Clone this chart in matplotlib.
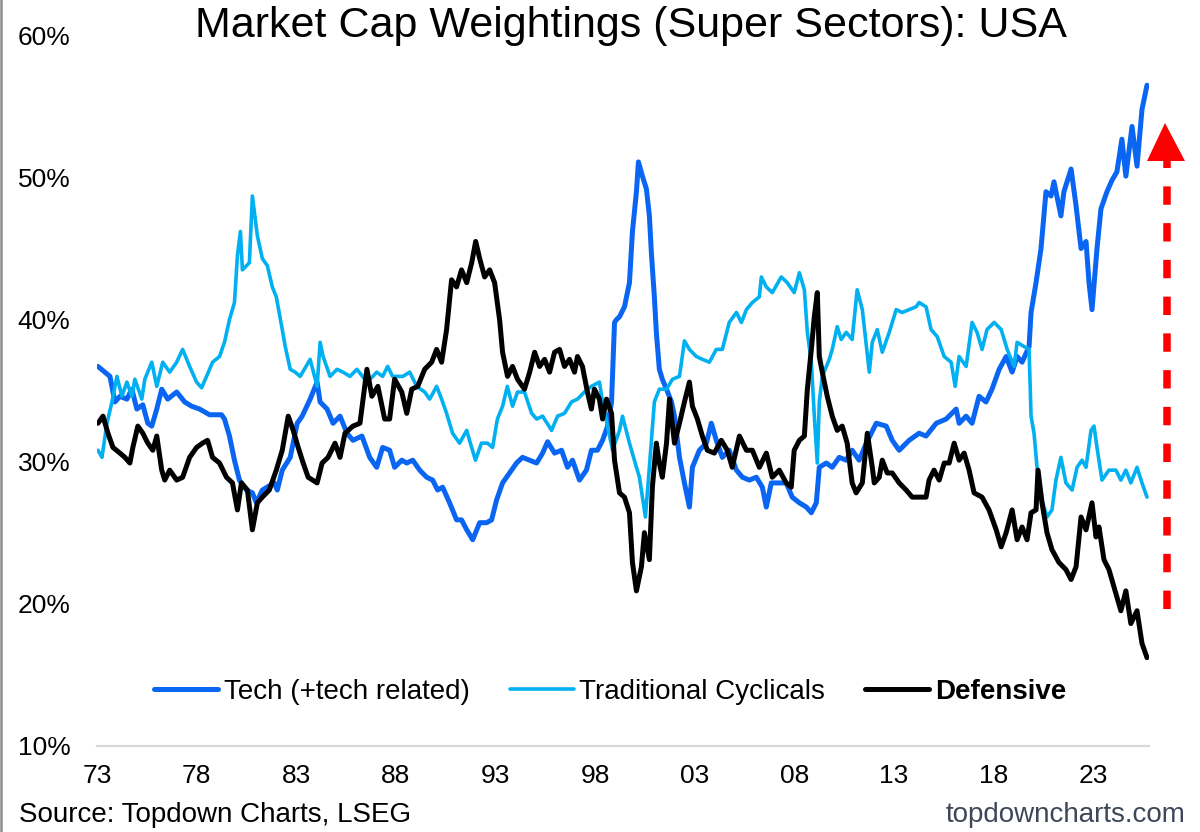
import matplotlib
matplotlib.use("Agg")
import matplotlib.pyplot as plt
from matplotlib.lines import Line2D
from matplotlib.patches import Polygon

# ---------------- data ----------------
tech_years = [1973.05, 1973.65, 1973.9, 1974.15, 1974.5, 1974.75, 1975.0, 1975.3, 1975.55, 1975.75,
              1976.0, 1976.25, 1976.55, 1977.0, 1977.4, 1977.75, 1978.15, 1978.65, 1979.25, 1979.4,
              1979.65, 1979.9, 1980.15, 1980.5, 1980.8, 1981.0, 1981.3, 1981.9, 1982.05, 1982.3,
              1982.7, 1983.05, 1983.3, 1983.7, 1984.05, 1984.2, 1984.55, 1984.85, 1985.2, 1985.55,
              1985.85, 1986.3, 1986.69, 1987.04, 1987.34, 1987.69, 1987.94, 1988.3, 1988.55, 1988.85,
              1989.2, 1989.55, 1989.85, 1990.1, 1990.35, 1990.7, 1991.05, 1991.3, 1991.56, 1991.86,
              1992.21, 1992.56, 1992.81, 1993.06, 1993.36, 1993.71, 1994.06, 1994.36, 1994.72, 1995.07,
              1995.37, 1995.62, 1995.97, 1996.32, 1996.62, 1996.87, 1997.22, 1997.57, 1997.82, 1998.12,
              1998.38, 1998.63, 1998.83, 1998.98, 1999.08, 1999.23, 1999.48, 1999.73, 1999.88, 2000.08,
              2000.18, 2000.38, 2000.58, 2000.73, 2000.83, 2000.98, 2001.08, 2001.23, 2001.38, 2001.59,
              2001.84, 2001.99, 2002.24, 2002.49, 2002.74, 2002.89, 2003.24, 2003.59, 2003.84, 2004.09,
              2004.39, 2004.74, 2005.1, 2005.4, 2005.75, 2006.1, 2006.4, 2006.6, 2006.85, 2007.15,
              2007.6, 2007.9, 2008.26, 2008.61, 2008.86, 2009.11, 2009.26, 2009.61, 2009.91, 2010.26,
              2010.61, 2010.91, 2011.26, 2011.62, 2012.12, 2012.62, 2012.92, 2013.27, 2013.77, 2014.27,
              2014.62, 2015.13, 2015.63, 2016.13, 2016.28, 2016.63, 2016.93, 2017.28, 2017.63, 2017.93,
              2018.29, 2018.64, 2018.94, 2019.19, 2019.44, 2019.79, 2019.89, 2020.14, 2020.39, 2020.64,
              2020.89, 2021.04, 2021.39, 2021.54, 2021.9, 2022.15, 2022.4, 2022.65, 2022.8, 2022.95,
              2023.2, 2023.4, 2023.7, 2023.95, 2024.2, 2024.45, 2024.65, 2024.96, 2025.21, 2025.46,
              2025.71]
tech_vals = [36.7, 36.0, 34.2, 34.6, 34.4, 35.1, 33.7, 34.0, 32.7, 32.5,
             33.7, 35.1, 34.4, 34.9, 34.2, 33.9, 33.7, 33.3, 33.3, 33.0,
             31.8, 30.1, 28.7, 28.0, 27.8, 27.1, 28.0, 28.5, 28.0, 29.4,
             30.3, 32.7, 33.2, 34.4, 35.6, 34.2, 33.7, 32.7, 33.2, 32.0,
             31.5, 31.8, 30.3, 29.6, 31.0, 30.8, 29.6, 30.1, 29.9, 30.1,
             29.4, 28.9, 28.7, 28.0, 28.2, 27.1, 25.9, 25.9, 25.2, 24.5,
             25.7, 25.7, 25.9, 27.3, 28.5, 29.2, 29.9, 30.3, 30.1, 29.9,
             30.6, 31.4, 30.6, 30.8, 29.6, 30.1, 28.7, 29.4, 30.8, 30.8,
             31.5, 32.5, 34.2, 39.8, 40.0, 40.2, 40.9, 42.6, 46.2, 49.0,
             51.1, 50.1, 49.2, 47.3, 44.7, 41.6, 39.1, 36.5, 35.8, 35.1,
             34.2, 33.2, 30.3, 28.5, 26.8, 29.6, 30.8, 31.3, 32.7, 31.5,
             30.3, 30.8, 29.4, 28.9, 28.7, 28.9, 28.2, 26.8, 28.5, 28.5,
             28.5, 27.5, 27.1, 26.8, 26.4, 27.1, 29.6, 29.9, 29.6, 30.3,
             30.1, 30.8, 30.1, 31.3, 32.7, 32.5, 31.5, 30.8, 31.5, 32.0,
             31.8, 32.7, 33.0, 33.7, 32.7, 33.2, 32.7, 34.6, 34.2, 35.1,
             36.5, 37.4, 36.3, 37.4, 37.0, 38.1, 40.5, 42.6, 45.0, 49.0,
             48.7, 49.7, 47.3, 49.0, 50.6, 48.0, 45.0, 45.5, 42.6, 40.7,
             45.0, 47.8, 49.0, 49.8, 50.4, 52.7, 50.1, 53.6, 50.8, 54.8,
             56.5]

cyc_years = [1973.05, 1973.25, 1973.5, 1973.75, 1974.0, 1974.25, 1974.5, 1974.75, 1974.9, 1975.25,
             1975.4, 1975.75, 1976.0, 1976.3, 1976.65, 1977.0, 1977.3, 1977.65, 1978.0, 1978.25,
             1978.5, 1978.8, 1979.15, 1979.4, 1979.65, 1979.9, 1980.05, 1980.2, 1980.3, 1980.65,
             1980.8, 1981.05, 1981.3, 1981.55, 1981.8, 1982.0, 1982.3, 1982.45, 1982.7, 1982.95,
             1983.2, 1983.7, 1984.05, 1984.2, 1984.35, 1984.7, 1985.05, 1985.35, 1985.7, 1986.05,
             1986.55, 1986.85, 1987.04, 1987.34, 1987.59, 1987.84, 1988.35, 1988.7, 1989.05, 1989.45,
             1989.7, 1990.05, 1990.3, 1990.55, 1990.85, 1991.2, 1991.56, 1991.7, 1992.0, 1992.3,
             1992.6, 1992.86, 1993.1, 1993.36, 1993.6, 1993.86, 1994.11, 1994.46, 1994.82, 1995.07,
             1995.37, 1995.82, 1996.12, 1996.47, 1996.82, 1997.12, 1997.47, 1997.82, 1998.22, 1998.38,
             1998.63, 1998.88, 1999.23, 1999.38, 1999.73, 2000.08, 2000.23, 2000.38, 2000.53, 2000.73,
             2000.98, 2001.23, 2001.59, 2001.89, 2002.24, 2002.49, 2002.74, 2003.09, 2003.39, 2003.74,
             2004.09, 2004.39, 2004.74, 2005.1, 2005.35, 2005.6, 2005.9, 2006.25, 2006.35, 2006.6,
             2006.9, 2007.35, 2007.65, 2008.0, 2008.26, 2008.51, 2008.66, 2008.86, 2009.01, 2009.16,
             2009.26, 2009.41, 2009.76, 2009.91, 2010.16, 2010.36, 2010.61, 2010.91, 2011.16, 2011.42,
             2011.77, 2011.92, 2012.17, 2012.42, 2012.77, 2013.12, 2013.42, 2013.77, 2014.12, 2014.27,
             2014.62, 2014.87, 2015.18, 2015.53, 2015.88, 2016.08, 2016.28, 2016.63, 2016.93, 2017.18,
             2017.43, 2017.68, 2018.04, 2018.39, 2018.69, 2019.04, 2019.19, 2019.54, 2019.79, 2019.89,
             2020.04, 2020.19, 2020.44, 2020.69, 2020.94, 2021.14, 2021.39, 2021.64, 2021.95, 2022.2,
             2022.45, 2022.65, 2022.9, 2023.05, 2023.2, 2023.45, 2023.8, 2024.15, 2024.4, 2024.65,
             2024.9, 2025.21, 2025.46, 2025.71]
cyc_vals = [30.8, 30.3, 32.7, 34.2, 36.0, 34.6, 35.6, 34.6, 35.8, 34.4,
            35.8, 37.0, 35.3, 37.0, 36.3, 37.0, 37.9, 36.7, 35.6, 35.2,
            36.0, 37.0, 37.4, 38.4, 40.0, 41.2, 44.5, 46.2, 43.5, 44.0,
            48.7, 45.9, 44.3, 43.8, 42.3, 41.6, 39.3, 38.1, 36.5, 36.3,
            36.0, 37.2, 35.3, 38.4, 37.4, 36.0, 36.5, 36.3, 36.0, 36.5,
            35.6, 36.0, 36.3, 36.0, 36.7, 36.0, 36.0, 36.3, 35.3, 34.9,
            34.4, 35.3, 34.4, 33.4, 32.0, 31.3, 32.2, 31.5, 30.1, 31.3,
            31.3, 31.0, 33.0, 33.9, 35.3, 33.9, 34.9, 34.9, 33.4, 33.0,
            33.2, 32.2, 33.2, 33.4, 34.2, 34.4, 34.9, 35.3, 35.6, 34.2,
            32.5, 30.8, 32.2, 33.2, 31.3, 29.6, 28.9, 27.5, 26.1, 29.6,
            34.2, 35.1, 35.1, 35.8, 36.0, 38.5, 37.9, 37.4, 37.2, 37.0,
            37.9, 37.9, 39.8, 40.5, 39.8, 40.7, 41.2, 41.6, 43.0, 42.3,
            41.9, 43.0, 42.6, 41.9, 43.3, 42.1, 39.1, 37.0, 33.2, 29.9,
            34.2, 36.0, 37.2, 37.9, 39.5, 38.6, 39.1, 38.6, 42.1, 40.7,
            36.3, 38.4, 39.3, 37.7, 39.1, 40.7, 40.5, 40.7, 40.9, 41.2,
            40.9, 39.3, 38.8, 37.4, 37.0, 35.3, 37.4, 36.7, 39.8, 39.1,
            37.9, 39.3, 39.8, 39.3, 37.9, 36.7, 38.4, 38.1, 37.9, 33.2,
            32.0, 29.6, 27.3, 26.1, 26.6, 28.7, 30.3, 28.5, 28.0, 29.6,
            30.1, 29.6, 32.2, 32.5, 31.0, 28.7, 29.4, 29.4, 28.7, 29.4,
            28.5, 29.6, 28.5, 27.5]

def_years = [1973.05, 1973.3, 1973.55, 1973.8, 1974.15, 1974.4, 1974.65, 1974.8, 1975.05, 1975.3,
             1975.55, 1975.8, 1976.0, 1976.25, 1976.4, 1976.65, 1977.0, 1977.3, 1977.65, 1978.0,
             1978.3, 1978.55, 1978.8, 1979.15, 1979.5, 1979.8, 1980.05, 1980.25, 1980.55, 1980.8,
             1981.05, 1981.3, 1981.65, 1982.0, 1982.3, 1982.6, 1982.85, 1983.1, 1983.35, 1983.6,
             1984.05, 1984.3, 1984.6, 1984.95, 1985.2, 1985.45, 1985.85, 1986.2, 1986.55, 1986.8,
             1987.1, 1987.44, 1987.69, 1987.94, 1988.3, 1988.55, 1988.8, 1989.1, 1989.45, 1989.8,
             1990.05, 1990.3, 1990.55, 1990.8, 1991.05, 1991.3, 1991.56, 1991.81, 1992.01, 1992.21,
             1992.46, 1992.71, 1992.96, 1993.21, 1993.36, 1993.61, 1993.86, 1994.11, 1994.46, 1994.72,
             1994.97, 1995.22, 1995.47, 1995.72, 1995.97, 1996.22, 1996.47, 1996.72, 1996.97, 1997.12,
             1997.37, 1997.62, 1997.82, 1997.97, 1998.22, 1998.38, 1998.58, 1998.83, 1998.98, 1999.23,
             1999.48, 1999.73, 1999.88, 2000.08, 2000.33, 2000.48, 2000.73, 2000.88, 2001.08, 2001.23,
             2001.38, 2001.59, 2001.74, 2001.99, 2002.24, 2002.49, 2002.74, 2002.89, 2003.14, 2003.39,
             2003.64, 2003.99, 2004.34, 2004.64, 2004.89, 2005.25, 2005.6, 2005.9, 2006.25, 2006.6,
             2006.9, 2007.25, 2007.6, 2007.85, 2008.0, 2008.26, 2008.51, 2008.66, 2008.86, 2009.01,
             2009.16, 2009.26, 2009.41, 2009.66, 2009.91, 2010.16, 2010.41, 2010.66, 2010.91, 2011.11,
             2011.42, 2011.67, 2011.92, 2012.02, 2012.27, 2012.42, 2012.67, 2012.92, 2013.27, 2013.62,
             2013.92, 2014.27, 2014.62, 2014.77, 2015.02, 2015.28, 2015.53, 2015.78, 2016.03, 2016.28,
             2016.53, 2016.78, 2017.03, 2017.43, 2017.78, 2018.14, 2018.39, 2018.64, 2018.94, 2019.19,
             2019.44, 2019.69, 2019.89, 2020.14, 2020.24, 2020.44, 2020.69, 2020.94, 2021.29, 2021.64,
             2021.9, 2022.15, 2022.4, 2022.65, 2022.95, 2023.15, 2023.3, 2023.55, 2023.8, 2024.15,
             2024.4, 2024.65, 2024.9, 2025.21, 2025.46, 2025.71]
def_vals = [32.7, 33.2, 32.0, 31.0, 30.6, 30.3, 29.9, 31.0, 32.5, 32.0,
            31.3, 30.8, 31.8, 29.4, 28.7, 29.4, 28.7, 28.9, 30.3, 31.0,
            31.3, 31.5, 30.3, 29.9, 28.9, 28.5, 26.6, 28.5, 28.0, 25.2,
            27.1, 27.5, 28.0, 29.4, 30.8, 33.2, 32.2, 31.0, 29.9, 28.9,
            28.5, 29.9, 30.3, 31.3, 30.3, 32.0, 32.5, 32.7, 36.5, 34.6,
            35.3, 33.0, 33.0, 35.8, 34.9, 33.4, 35.1, 35.3, 36.5, 37.0,
            37.9, 37.0, 39.3, 42.8, 42.3, 43.5, 42.6, 44.0, 45.5, 44.3,
            43.0, 43.5, 42.6, 40.0, 37.7, 36.0, 36.7, 35.8, 35.1, 36.3,
            37.7, 36.7, 37.2, 36.3, 37.7, 37.9, 36.7, 37.2, 36.3, 37.4,
            36.7, 34.9, 33.7, 35.1, 34.4, 33.0, 34.4, 33.4, 30.1, 27.8,
            27.5, 26.4, 22.9, 20.9, 22.6, 25.0, 23.1, 28.2, 31.3, 29.9,
            28.9, 31.3, 34.4, 31.3, 32.7, 34.2, 35.6, 33.9, 33.0, 31.8,
            30.8, 30.6, 31.5, 30.8, 29.6, 31.8, 30.8, 30.8, 29.6, 30.6,
            28.9, 29.4, 28.5, 28.2, 30.8, 31.5, 31.8, 35.1, 37.9, 40.2,
            41.9, 37.4, 36.3, 34.6, 33.2, 32.2, 32.5, 31.3, 28.5, 27.8,
            28.5, 32.0, 29.6, 28.5, 28.9, 30.1, 29.2, 29.2, 28.5, 28.0,
            27.5, 27.5, 27.5, 28.7, 29.4, 28.7, 29.9, 29.9, 31.3, 30.1,
            30.6, 29.4, 27.8, 27.5, 26.6, 25.2, 24.0, 25.0, 26.6, 24.5,
            25.4, 24.5, 26.4, 26.6, 29.4, 27.1, 25.0, 23.8, 22.9, 22.4,
            21.7, 22.6, 26.1, 25.2, 27.1, 24.7, 25.4, 23.1, 22.4, 20.7,
            19.5, 20.9, 18.6, 19.5, 17.2, 16.2]

series_labels = ["Tech (+tech related)", "Traditional Cyclicals", "Defensive"]
x_tick_years = [1973, 1978, 1983, 1988, 1993, 1998, 2003, 2008, 2013, 2018, 2023]
x_tick_labels = ["73", "78", "83", "88", "93", "98", "03", "08", "13", "18", "23"]
y_ticks = [10, 20, 30, 40, 50, 60]
y_tick_labels = ["10%", "20%", "30%", "40%", "50%", "60%"]

# ---------------- figure ----------------
plt.rcParams['font.family'] = ['Liberation Sans', 'DejaVu Sans']
W, H = 1200, 832
fig = plt.figure(figsize=(W / 100, H / 100), dpi=100)
fig.patch.set_facecolor('white')

ax_left, ax_right = 97, 1149
ax_bottom_px, ax_top_px = 745.7, 35.5   # image y coordinates
ax = fig.add_axes([ax_left / W, (H - ax_bottom_px) / H,
                   (ax_right - ax_left) / W, (ax_bottom_px - ax_top_px) / H])

ax.plot(tech_years, tech_vals, color='#0A66F2', lw=3.6, label=series_labels[0],
        solid_joinstyle='round', solid_capstyle='round')
ax.plot(cyc_years, cyc_vals, color='#00B0F0', lw=2.6, label=series_labels[1],
        solid_joinstyle='round', solid_capstyle='round')
ax.plot(def_years, def_vals, color='black', lw=3.6, label=series_labels[2],
        solid_joinstyle='round', solid_capstyle='round')

ax.set_xlim(1973, 1973 + (ax_right - ax_left) / 19.92)
ax.set_ylim(10, 60)
ax.set_xticks(x_tick_years)
ax.set_xticklabels(x_tick_labels)
ax.set_yticks(y_ticks)
ax.set_yticklabels(y_tick_labels)
ax.tick_params(axis='both', length=0, labelsize=19)
ax.tick_params(axis='x', pad=13)
ax.tick_params(axis='y', pad=19)
for s in ['top', 'right', 'left']:
    ax.spines[s].set_visible(False)
ax.spines['bottom'].set_color('#D9D9D9')
ax.spines['bottom'].set_linewidth(1.6)
ax.set_facecolor('none')

leg = ax.legend(loc='center', bbox_to_anchor=(610 / W, 140 / H),
                bbox_transform=fig.transFigure, ncol=3, frameon=False,
                fontsize=20, handlelength=2.3, handletextpad=0.2, columnspacing=1.45)
leg.get_texts()[2].set_fontweight('bold')

# title
fig.text(631 / W, 1 - 37 / H, "Market Cap Weightings (Super Sectors): USA",
         ha='center', va='baseline', fontsize=31)

# footer
fig.text(19 / W, 10 / H, "Source: Topdown Charts, LSEG", ha='left', va='baseline', fontsize=20)
fig.text(1186 / W, 10 / H, "topdowncharts.com", ha='right', va='baseline', fontsize=20,
         color='#3E4758')

# left border of the image
fig.add_artist(Line2D([1 / W, 1 / W], [0, 1], transform=fig.transFigure,
                      color='#8C8C8C', lw=1.8))

# red dashed arrow
shaft_x = 1167
fig.add_artist(Line2D([shaft_x / W, shaft_x / W], [(H - 609) / H, (H - 160) / H],
                      transform=fig.transFigure, color='#FF0000', lw=5.4,
                      linestyle=(0, (2.45, 2.45)), dash_capstyle='butt'))
fig.add_artist(Polygon([[1165 / W, (H - 123) / H], [1147 / W, (H - 161) / H],
                        [1185 / W, (H - 161) / H]], closed=True,
                       transform=fig.transFigure, facecolor='#FF0000', edgecolor='none'))

fig.savefig('out.png', dpi=100, facecolor='white')
